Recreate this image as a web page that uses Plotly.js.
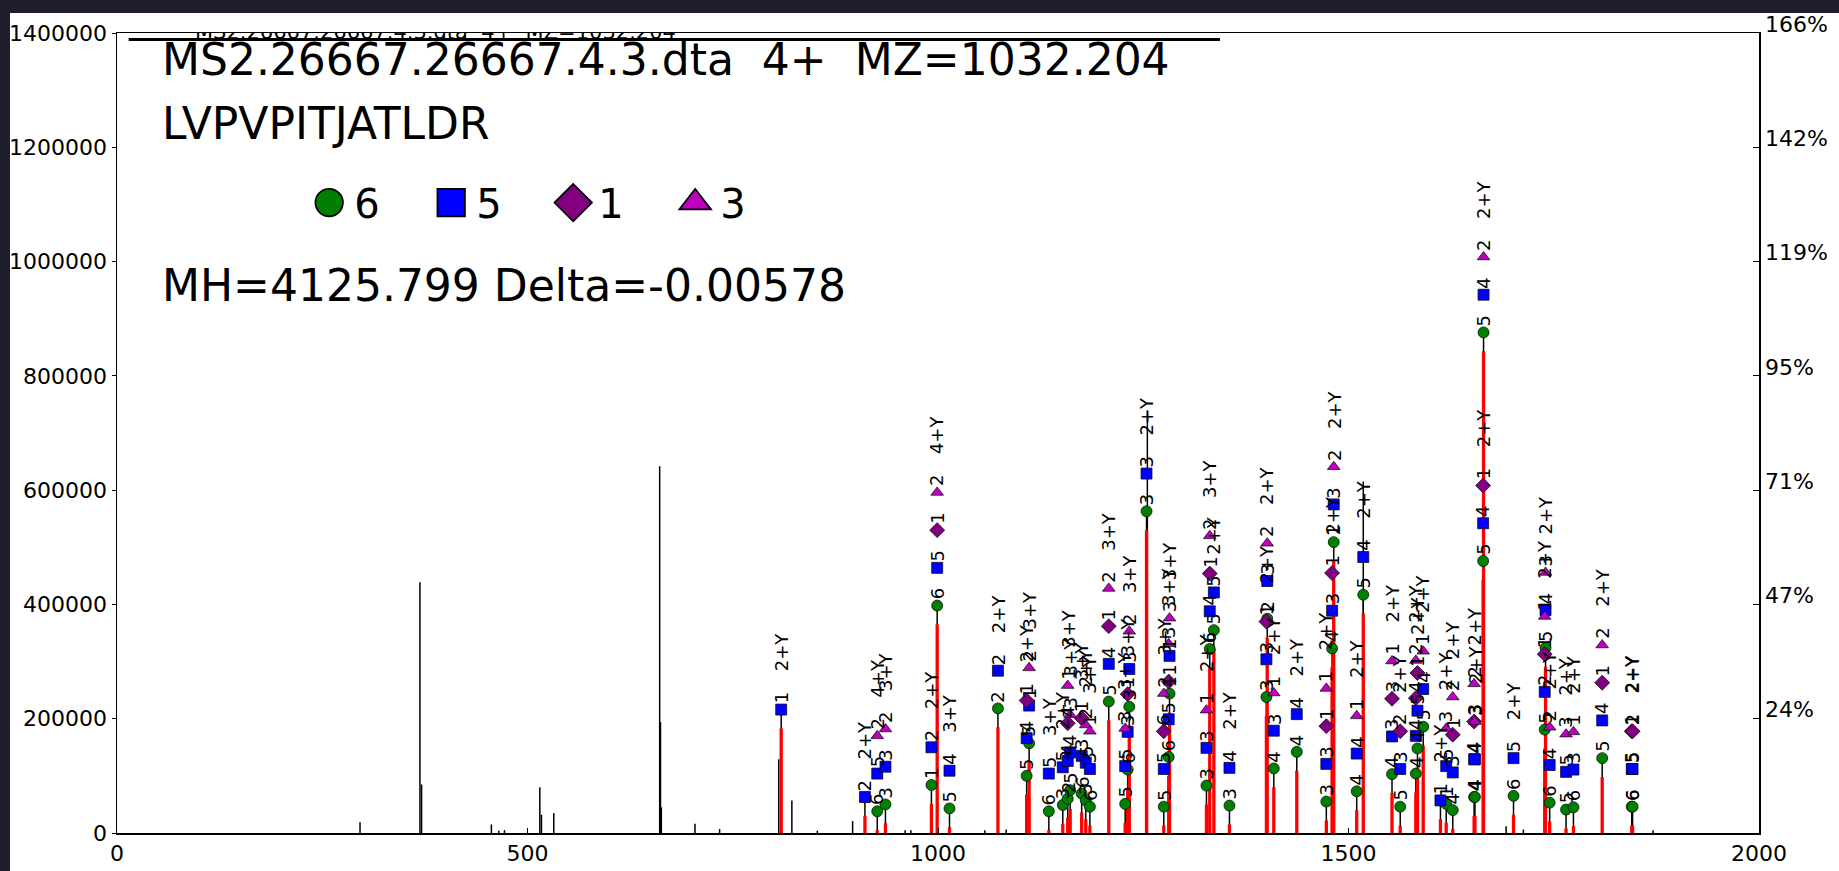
<!DOCTYPE html>
<html><head><meta charset="utf-8">
<script src="https://cdn.plot.ly/plotly-3.0.1.min.js"></script>
<style>
html,body{margin:0;padding:0;background:#1e1e2d;width:1839px;height:871px;overflow:hidden}
#wrap{position:absolute;left:10px;top:13px;width:1829px;height:858px;background:#fff}
#chart{position:absolute;left:0;top:0;width:1839px;height:871px}
</style></head><body><div id="wrap"></div><div id="chart"></div>
<script>
// ---------- data ----------
const specTitle = 'MS2.26667.26667.4.3.dta  4+  MZ=1032.204';
const peptide = 'LVPVPITJATLDR';
const massLine = 'MH=4125.799 Delta=-0.00578';
const seriesNames = ['6', '5', '1', '3'];

// unmatched peaks (black)
const blackMz  = [296, 369, 371, 456, 465, 472, 515, 517, 532, 661, 662, 663, 704, 734, 806, 822, 853, 896, 960, 967, 1057, 1083, 1255, 1518, 1692, 1713, 1871];
const blackInt = [19000, 439000, 85000, 15000, 4000, 5000, 80000, 32000, 35000, 642000, 194000, 45000, 16000, 7000, 129000, 57000, 4000, 21000, 5000, 5000, 5000, 6000, 740000, 615000, 12000, 6000, 5000];

// matched peaks (red) with their annotations
const annMz  = [809, 911, 926, 936, 992, 999, 1014, 1073, 1108, 1111, 1135, 1152, 1158, 1161, 1175, 1180, 1185, 1208, 1228, 1231, 1233, 1254, 1275, 1281, 1282, 1327, 1331, 1336, 1355, 1400, 1401, 1409, 1437, 1473, 1480, 1482, 1510, 1518, 1553, 1563, 1582, 1584, 1591, 1612, 1619, 1627, 1653, 1654, 1664, 1664.5, 1701, 1739, 1740, 1745, 1765, 1774, 1809, 1845, 1846];
const annInt = [183000, 30000, 5000, 17000, 51000, 365000, 10000, 185000, 67000, 124000, 5000, 16000, 27000, 42000, 36000, 24000, 13000, 197000, 18000, 78000, 188000, 530000, 13000, 100000, 211000, 50000, 289000, 322000, 15000, 205000, 342000, 80000, 109000, 22000, 290000, 476000, 40000, 384000, 70000, 13000, 71000, 115000, 153000, 24000, 18000, 7000, 30000, 30000, 443000, 843000, 32000, 148000, 291000, 20000, 8000, 12000, 98000, 13000, 13000];
const annCircle   = ['', '', '6', '3', '1', '6', '5', '2', '5', '5', '6', '3', '2', '5', '6', '3', '6', '5', '5', '6', '3', '3', '5', '6', '1', '3', '6', '5', '3', '3', '2', '4', '4', '3', '4', '1', '4', '5', '4', '5', '4', '4', '5', '', '1', '4', '4', '4', '5', '5', '6', '5', '5', '6', '5', '6', '5', '6', '6'];
const annSquare   = ['1', '2', '5', '3', '2', '5', '4', '2', '4', '1', '5', '5', '4', '4', '3', '5', '3', '4', '5', '3', '3', '3', '5', '5', '1', '3', '4', '5', '4', '3', '3', '3', '4', '3', '3', '3', '4', '4', '3', '3', '4', '5', '4', '1', '5', '3', '4', '4', '4', '4', '5', '2', '4', '4', '5', '3', '4', '5', '5'];
const annDiamond  = ['', '', '', '', '', '1', '', '', '1', '', '', '', '4', '', '1', '', '', '1', '', '1', '', '', '6', '1', '', '', '1', '', '', '1', '', '', '', '1', '1', '', '', '', '3', '2', '4', '1', '', '', '', '1', '3', '', '1', '', '', '1', '', '', '', '', '1', '1', '2'];
const annTriangle = ['', '', '2', '2', '', '2', '', '', '', '2', '', '', '1', '3', '', '2', '1', '2', '3', '', '2', '', '2', '3', '3', '1', '2', '', '', '', '2', '1', '', '1', '', '2', '1', '', '1', '', '2', '', '1', '', '3', '2', '2', '3', '', '2', '', '1', '3', '2', '3', '1', '2', '', ''];
const annIon      = ['2+Y', '2+Y', '4+Y', '3+Y', '2+Y', '4+Y', '3+Y', '2+Y', '2+Y', '3+Y', '3+Y', '2+Y', '3+Y', '3+Y', '3+Y', '2+Y', '3+Y', '3+Y', '3+Y', '3+Y', '3+Y', '2+Y', '3+Y', '3+Y', '3+Y', '2+Y', '3+Y', '2+Y', '2+Y', '2+Y', '2+Y', '2+Y', '2+Y', '2+Y', '2+Y', '2+Y', '2+Y', '2+Y', '2+Y', '2+Y', '2+Y', '2+Y', '2+Y', '2+Y', '2+Y', '2+Y', '2+Y', '2+Y', '2+Y', '2+Y', '2+Y', '2+Y', '2+Y', '2+Y', '2+Y', '2+Y', '2+Y', '2+Y', '2+Y'];

const leftTicks = [0, 200000, 400000, 600000, 800000, 1000000, 1200000, 1400000];
const xTicks = [0, 500, 1000, 1500, 2000];

// ---------- build ----------
const FONT = 'DejaVu Sans';
const markerStep = 66000;       // vertical spacing of stacked annotation markers
const symbols = ['circle', 'square', 'diamond', 'triangle-up'];
const colors = ['#008000', '#0000ff', '#800080', '#bf00bf'];
const symSize = [11, 11, 11.5, 11];
const kinds = [annCircle, annSquare, annDiamond, annTriangle];

const mx = [[], [], [], []], my = [[], [], [], []];
const annotations = [];
const redX = [], redY = [], blkX = [], blkY = [];

blackMz.forEach((m, i) => { blkX.push(m, m, null); blkY.push(0, blackInt[i], null); });

annMz.forEach((m, i) => {
  let k = 0, top = annInt[i], first = null;
  kinds.forEach((arr, j) => {
    if (arr[i] !== '') {
      const y = annInt[i] + markerStep * (k + 0.5);
      if (first === null) first = y;
      mx[j].push(m); my[j].push(y);
      annotations.push({x: m, y: y, xref: 'x', yref: 'y', text: arr[i], showarrow: false,
        textangle: -90, xanchor: 'center', yanchor: 'bottom', yshift: 4,
        font: {family: FONT, size: 18, color: '#000'}});
      top = y; k++;
    }
  });
  annotations.push({x: m, y: top, xref: 'x', yref: 'y', text: annIon[i], showarrow: false,
    textangle: -90, xanchor: 'center', yanchor: 'bottom', yshift: 36,
    font: {family: FONT, size: 18, color: '#000'}});
  blkX.push(m, m, null); blkY.push(0, first, null);
  redX.push(m, m, null); redY.push(0, annInt[i], null);
});

const traces = [
  {x: blkX, y: blkY, mode: 'lines', line: {color: '#000', width: 1.5}, showlegend: false, hoverinfo: 'skip'},
  {x: redX, y: redY, mode: 'lines', line: {color: '#ff0000', width: 3.3}, showlegend: false, hoverinfo: 'skip'}
];
for (let j = 0; j < 4; j++) {
  traces.push({x: mx[j], y: my[j], mode: 'markers', name: seriesNames[j],
    marker: {symbol: symbols[j], color: colors[j], size: symSize[j], line: {color: '#000', width: 0.7}}});
}
// small axes title, clipped by the frame like the original
traces.push({x: [95], y: [1398000], mode: 'text', text: [specTitle], textposition: 'middle right',
  textfont: {family: FONT, size: 21, color: '#000'}, showlegend: false, hoverinfo: 'skip', cliponaxis: true});
// carrier for right axis
const maxI = Math.max(...annInt);
traces.push({x: [0], y: [0], yaxis: 'y2', mode: 'markers', marker: {opacity: 0}, showlegend: false, hoverinfo: 'skip'});

const bigFont = {family: FONT, size: 44, color: '#000'};
annotations.push(
  {xref: 'paper', yref: 'paper', x: 0.026, y: 0.9665, xanchor: 'left', yanchor: 'middle', text: specTitle.replace(/  /g, '&nbsp;&nbsp;'), showarrow: false, font: bigFont},
  {xref: 'paper', yref: 'paper', x: 0.026, y: 0.8871, xanchor: 'left', yanchor: 'middle', text: peptide, showarrow: false, font: bigFont},
  {xref: 'paper', yref: 'paper', x: 0.026, y: 0.6846, xanchor: 'left', yanchor: 'middle', text: massLine, showarrow: false, font: bigFont}
);

const axisCommon = {showline: true, linecolor: '#000', linewidth: 1.5, showgrid: false, zeroline: false,
  tickfont: {family: FONT, size: 22, color: '#000'}, tickcolor: '#000'};

const layout = {
  width: 1839, height: 871,
  paper_bgcolor: 'rgba(0,0,0,0)', plot_bgcolor: '#ffffff',
  margin: {l: 117.3, r: 80, t: 32.8, b: 38.3, pad: 0},
  font: {family: FONT, color: '#000'},
  xaxis: Object.assign({}, axisCommon, {range: [0, 2000], tickvals: xTicks, ticks: 'inside', ticklen: 5, mirror: true}),
  yaxis: Object.assign({}, axisCommon, {range: [0, 1400000], tickvals: leftTicks, ticktext: leftTicks.map(v => String(v)), ticks: 'outside', ticklen: 4}),
  yaxis2: Object.assign({}, axisCommon, {overlaying: 'y', side: 'right', range: [0, 1400000],
    tickvals: leftTicks.slice(1), ticktext: leftTicks.slice(1).map(v => Math.round(v / maxI * 100) + '%'),
    ticks: 'inside', ticklen: 6, ticklabelshift: -9}),
  showlegend: true,
  legend: {orientation: 'h', x: 0.114, y: 0.788, xanchor: 'left', yanchor: 'middle',
    font: {family: FONT, size: 40, color: '#000'}, bgcolor: 'rgba(0,0,0,0)', itemwidth: 40, entrywidth: 67},
  shapes: [{type: 'line', xref: 'paper', yref: 'paper', x0: 0.0071, x1: 0.6717, y0: 0.992, y1: 0.992, line: {color: '#000', width: 3}}],
  annotations: annotations
};

Plotly.newPlot('chart', traces, layout, {displayModeBar: false, staticPlot: true}).then(() => {
  document.querySelectorAll('.legend .legendpoints path.scatterpts').forEach(p => {
    const t = p.getAttribute('transform') || '';
    p.setAttribute('transform', t + ' scale(2.5)');
  });
});
</script></body></html>
